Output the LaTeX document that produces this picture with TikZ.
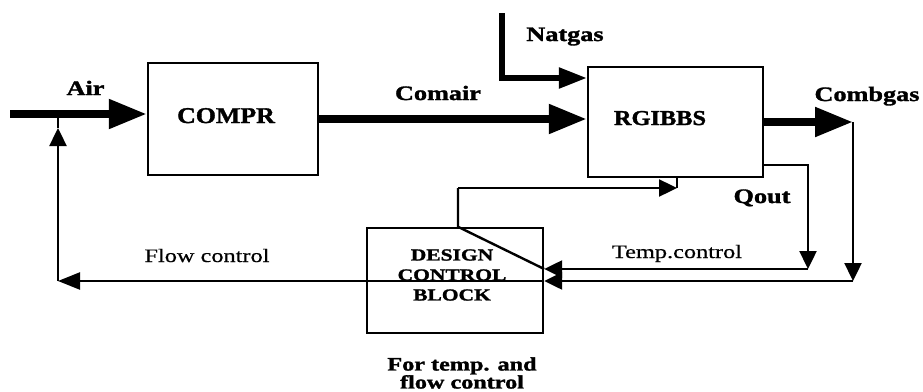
\documentclass[tikz,border=0pt]{standalone}
\usepackage{fontspec}
\setmainfont{Liberation Serif}
\newfontfamily\widefont[FakeStretch=1.28, FakeBold=0.6, BoldFeatures={FakeBold=1.6}]{Liberation Serif}
\newfontfamily\boxfont[FakeStretch=1.15, BoldFeatures={FakeBold=1.6}]{Liberation Serif}
\usepackage{tikz}
\usetikzlibrary{arrows.meta}

\begin{document}
\begin{tikzpicture}[
    x=1pt, y=-1pt,
    block/.style={rectangle, draw, line width=2.4pt, inner sep=0pt},
    boxtext/.style={anchor=base, inner sep=0pt, font=\boxfont\bfseries\fontsize{22.5}{24}\selectfont},
    lbl/.style={anchor=base, inner sep=0pt, font=\widefont\bfseries\fontsize{20.5}{22}\selectfont},
    siglbl/.style={anchor=base, inner sep=0pt, font=\widefont\fontsize{19}{20}\selectfont},
    note/.style={align=center, inner sep=0pt, font=\widefont\bfseries\fontsize{18.9}{18}\selectfont},
    flow/.style={line width=8pt, -{Triangle[length=38pt, width=28pt]}},
    feed/.style={line width=5.5pt, -{Triangle[length=28pt, width=20pt]}},
    sig/.style={line width=2.4pt, -{Triangle[length=18pt, width=17pt]}},
    plain/.style={line width=2.4pt}
]
\useasboundingbox (0,0) rectangle (923,391);

\node[block, minimum width=170pt, minimum height=112pt] (compr) at (233,119) {};
\node[block, minimum width=175pt, minimum height=110pt] (rgibbs) at (675.5,122) {};
\node[block, minimum width=176pt, minimum height=105pt] (dcb) at (455,280.5) {};

\node[boxtext] (comprtxt) at (226,123) {COMPR};
\node[boxtext, font=\boxfont\bfseries\fontsize{21.2}{24}\selectfont] (rgibbstxt) at (660,125) {RGIBBS};
\node[note, font=\widefont\bfseries\fontsize{16.8}{20}\selectfont] (dcbtxt) at (452,275) {DESIGN\\CONTROL\\BLOCK};

\coordinate (airin) at (10,114);
\coordinate (cgend) at (853,122);
\coordinate (cgdown) at (853,281);
\coordinate (fccorner) at (58,281);
\coordinate (fcup) at (58,128);
\coordinate (ngtop) at (502,13);
\coordinate (ngcorner) at (502,78);
\coordinate (qoturn) at (808,165);
\coordinate (qodown) at (808,269);
\coordinate (tcup) at (458,188);
\coordinate (tcend) at (677,188);

\draw[flow] (airin) -- (airin -| compr.west);
\draw[flow] (compr.east) -- (compr.east -| rgibbs.west);
\draw[flow] (rgibbs.east) -- (cgend);
\draw[feed] (ngtop) -- (ngcorner) -- (ngcorner -| rgibbs.west);
\draw[sig] (cgend) -- (cgdown);
\draw[sig] (cgdown) -- (cgdown -| dcb.east);
\draw[sig, -{Triangle[length=22pt, width=17pt]}] (cgdown -| dcb.east) -- (fccorner);
\draw[sig] (fccorner) -- (fcup);
\draw[plain] (fcup) -- (fcup |- airin);
\draw[sig] (rgibbs.east |- qoturn) -- (qoturn) -- (qodown);
\draw[sig] (qodown) -- (qodown -| dcb.east);
\draw[plain] (qodown -| dcb.east) -- (tcup |- dcb.north) -- (tcup);
\draw[sig] (tcup) -- (tcend);
\draw[plain] (tcend) -- (tcend |- rgibbs.south);

\node[lbl] (air) at (85.5,95) {Air};
\node[lbl] (comair) at (438,100) {Comair};
\node[lbl] (combgas) at (867,101) {Combgas};
\node[lbl] (natgas) at (565,41) {Natgas};
\node[lbl] (qout) at (762,203) {Qout};
\node[siglbl] (tempctl) at (677,258) {Temp.control};
\node[siglbl] (flowctl) at (207,262) {Flow control};
\node[note] (notetxt) at (462,373) {For temp. and\\flow control};
\end{tikzpicture}
\end{document}
